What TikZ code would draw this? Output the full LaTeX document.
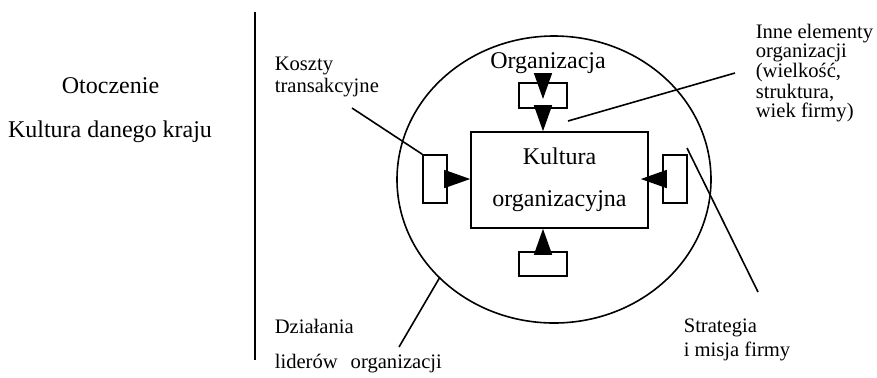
\documentclass[tikz,border=0pt]{standalone}
\usepackage{fontspec}
\setmainfont{Liberation Serif}
\usetikzlibrary{arrows.meta}
\begin{document}
\begin{tikzpicture}[x=0.5pt,y=-0.5pt,line width=0.8pt]
        \tikzset{
            kasten/.style={draw, inner sep=0pt},
            pfeil/.style={-{Triangle[length=13pt,width=9pt]}},
            opis/.style={inner sep=0pt, anchor=base west, align=left},
            glowny/.style={inner sep=0pt, anchor=base, font=\fontsize{12}{14}\selectfont}
        }
        \useasboundingbox (0,0) rectangle (877,377);

        % Linia oddzielajaca otoczenie od organizacji
        \coordinate (granica1) at (255,12);
        \coordinate (granica2) at (255,360);
        \draw (granica1) -- (granica2);

        % Otoczenie
        \node[glowny] (otocz) at (110.5,93) {Otoczenie};
        \node[glowny] (kraj) at (110,137) {Kultura danego kraju};

        % Organizacja (elipsa)
        \draw (554,179.5) ellipse [x radius=157, y radius=143.5];
        \node[glowny] (org) at (548,68) {Organizacja};

        % Kultura organizacyjna w srodku
        \node[kasten, minimum width=88.5pt, minimum height=48pt, align=center,
              font=\fontsize{12}{21}\selectfont] (kult) at (559.5,180) {Kultura\\organizacyjna};

        % Male prostokaty wokol
        \node[kasten, minimum width=24pt, minimum height=12.5pt] (gora) at (543,95.5) {};
        \node[kasten, minimum width=12pt, minimum height=24pt] (lewy) at (435,179) {};
        \node[kasten, minimum width=12pt, minimum height=24pt] (prawy) at (675,179) {};
        \node[kasten, minimum width=24pt, minimum height=12pt] (dol) at (543,264) {};

        % Strzalki
        \coordinate (orgwej) at (543,73);
        \draw[pfeil, shorten >=-1.75pt] (orgwej) -- (gora.center);
        \draw[pfeil] (gora.south) -- (gora.south |- kult.north);
        \draw[pfeil] (lewy.east) -- (lewy.east -| kult.west);
        \draw[pfeil, shorten >=-4pt] (prawy.west) -- (prawy.west -| kult.east);
        \draw[pfeil] (dol.north) -- (dol.north |- kult.south);

        % Opisy czynnikow (kotwica = linia bazowa ostatniego wiersza)
        \node[opis, font=\fontsize{10.3}{11}\selectfont] (koszty) at (274,92) {Koszty\\transakcyjne};
        \node[opis, font=\fontsize{10.3}{9.25}\selectfont] (inne) at (755,117)
             {Inne elementy\\organizacji\\(wielkość,\\struktura,\\wiek firmy)};
        \node[opis, font=\fontsize{10.3}{12}\selectfont] (strat) at (683,356) {Strategia\\i misja firmy};
        \node[opis, font=\fontsize{10.3}{12}\selectfont] (dzial) at (274,333) {Działania};
        \node[opis, font=\fontsize{10.3}{12}\selectfont] (lider) at (274,368) {liderów\hspace{6.5pt}organizacji};

        % Linie od opisow
        \coordinate (koszty1) at (352,108);
        \draw (koszty1) -- (lewy.north west);
        \coordinate (inne1) at (568,121);
        \coordinate (inne2) at (735,73);
        \draw (inne1) -- (inne2);
        \coordinate (strat1) at (687,148);
        \coordinate (strat2) at (758,292);
        \draw (strat1) -- (strat2);
        \coordinate (dzial1) at (440,277);
        \coordinate (dzial2) at (399,347);
        \draw (dzial1) -- (dzial2);

    \end{tikzpicture}
\end{document}
